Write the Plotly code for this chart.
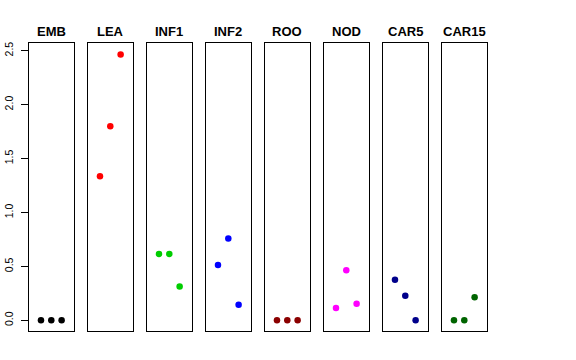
import plotly.graph_objects as go

categories = ["EMB", "LEA", "INF1", "INF2", "ROO", "NOD", "CAR5", "CAR15"]
colors = ["#000000", "#FF0000", "#00CD00", "#0000FF", "#8B0000", "#FF00FF", "#00008B", "#006400"]
values = {
    "EMB": [0.0, 0.0, 0.0],
    "LEA": [1.335, 1.80, 2.466],
    "INF1": [0.616, 0.616, 0.314],
    "INF2": [0.514, 0.758, 0.144],
    "ROO": [0.0, 0.0, 0.0],
    "NOD": [0.114, 0.465, 0.154],
    "CAR5": [0.376, 0.228, 0.0],
    "CAR15": [0.0, 0.0, 0.213],
}
reps = [1, 2, 3]
y_ticks = [0.0, 0.5, 1.0, 1.5, 2.0, 2.5]

W, H = 576, 360
left0, pitch, pw = 29.0, 59.0, 44.6
top_px, bot_px = 43.3, 331.0
ymax = 2.47
yr = [0 - 0.04 * ymax, ymax + 0.04 * ymax]

fig = go.Figure()
layout = dict(
    width=W, height=H,
    margin=dict(l=0, r=0, t=0, b=0),
    paper_bgcolor="white", plot_bgcolor="white",
    showlegend=False,
    font=dict(family="Liberation Sans, Arial, sans-serif", color="black"),
)
annotations = []
for i, (cat, col) in enumerate(zip(categories, colors)):
    n = "" if i == 0 else str(i + 1)
    fig.add_trace(go.Scatter(
        x=reps, y=values[cat], mode="markers",
        marker=dict(color=col, size=6.5),
        xaxis="x" + n, yaxis="y" + n, hoverinfo="skip",
    ))
    x0 = (left0 + i * pitch) / W
    x1 = (left0 + i * pitch + pw) / W
    layout["xaxis" + n] = dict(
        domain=[x0, x1], range=[-0.16, 4.16], anchor="y" + n, automargin=False,
        showgrid=False, zeroline=False, showticklabels=False, ticks="",
        showline=True, linecolor="black", linewidth=1, mirror=True, fixedrange=True,
    )
    ya = dict(
        domain=[1 - bot_px / H, 1 - top_px / H], range=yr, anchor="x" + n, automargin=False,
        showgrid=False, zeroline=False,
        showline=True, linecolor="black", linewidth=1, mirror=True, fixedrange=True,
    )
    if i == 0:
        ya.update(
            tickvals=y_ticks, ticktext=[f"{v:.1f}" for v in y_ticks],
            ticks="outside", ticklen=7, tickcolor="black", tickwidth=1,
            tickangle=-90, tickfont=dict(size=10.5, color="black"),
            ticklabelstandoff=4,
        )
    else:
        ya.update(showticklabels=False, ticks="")
    layout["yaxis" + n] = ya
    annotations.append(dict(
        text="<b>" + cat + "</b>", x=(x0 + x1) / 2, y=1 - 31.5 / H,
        xref="paper", yref="paper", showarrow=False,
        xanchor="center", yanchor="middle",
        font=dict(size=13, color="black"),
    ))
layout["annotations"] = annotations
fig.update_layout(**layout)
fig.write_html("out.html", config={"displayModeBar": False, "staticPlot": True},
               post_script="document.body.style.margin='0';")
